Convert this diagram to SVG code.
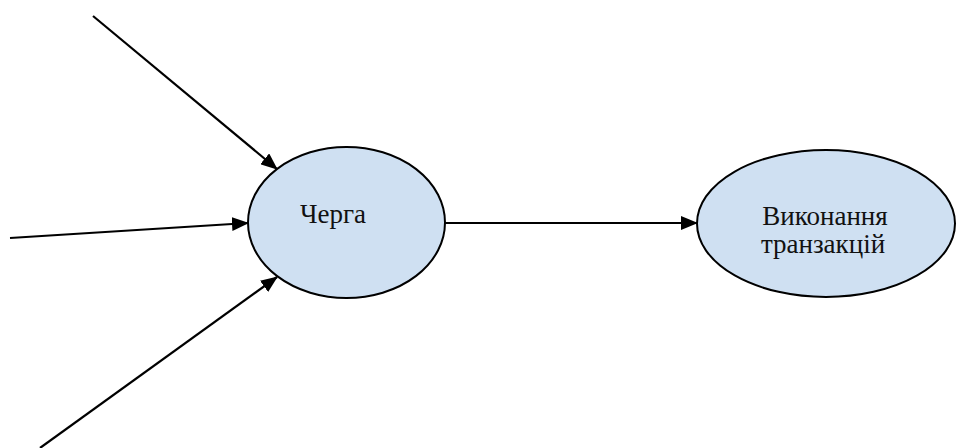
<svg xmlns="http://www.w3.org/2000/svg" width="956" height="448" viewBox="0 0 956 448">
  <style>
    .node ellipse { fill: #cfe0f2; stroke: #000; stroke-width: 2; }
    .node text { font-family: "Liberation Serif", "Times New Roman", "DejaVu Serif", serif; font-size: 27px; fill: #111; text-anchor: middle; }
    .edge { stroke: #000; stroke-width: 2.2; fill: none; marker-end: url(#arrow); }
  </style>
  <defs>
    <marker id="arrow" markerWidth="17" markerHeight="14" refX="16" refY="7" orient="auto" markerUnits="userSpaceOnUse">
      <path d="M0,0 L17,7 L0,14 Z" fill="#000"/>
    </marker>
  </defs>
  <rect width="956" height="448" fill="#fff"/>
  <g id="connectors">
    <line class="edge" x1="93" y1="16" x2="277" y2="169"/>
    <line class="edge" x1="10" y1="238" x2="248" y2="223"/>
    <line class="edge" x1="40" y1="448" x2="277" y2="277"/>
    <line class="edge" x1="445" y1="223" x2="697" y2="223"/>
  </g>
  <g id="node-cherha" class="node">
    <ellipse cx="346.5" cy="222.5" rx="98.5" ry="75.5"/>
    <text x="333" y="223">Черга</text>
  </g>
  <g id="node-vykonannia" class="node">
    <ellipse cx="826" cy="223.5" rx="129" ry="73.5"/>
    <text x="825" y="225">Виконання</text>
    <text x="823" y="253">транзакцій</text>
  </g>
</svg>
